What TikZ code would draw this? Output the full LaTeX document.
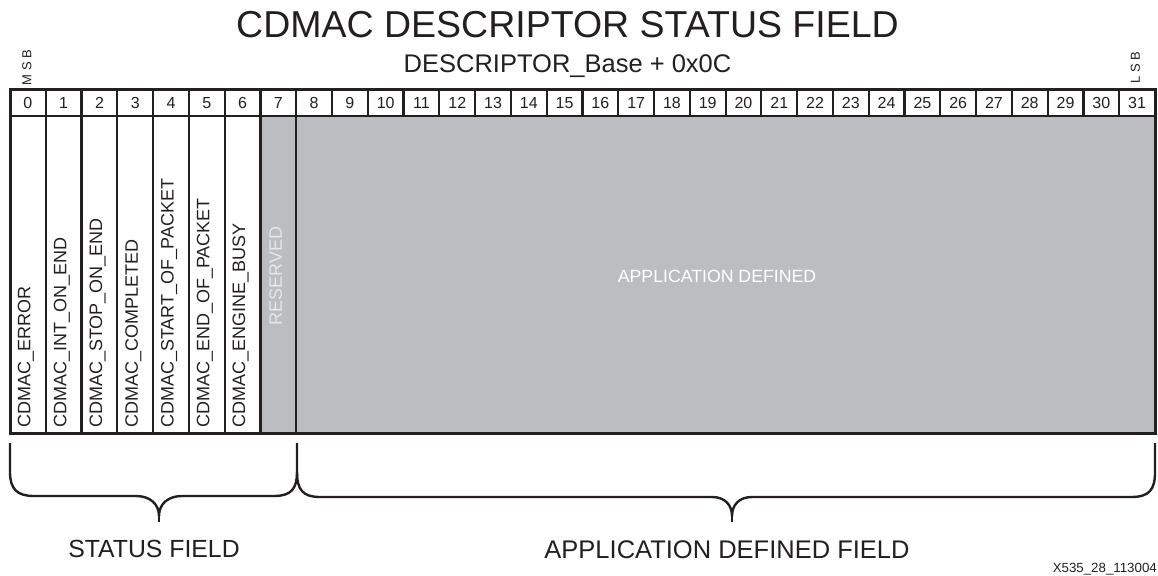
\documentclass[tikz,border=0pt]{standalone}
\usepackage{fontspec}
\setmainfont{Liberation Sans}
\definecolor{ink}{HTML}{231F20}
\definecolor{fillgray}{HTML}{BCBDC0}
\definecolor{lighttext}{HTML}{E6E7E8}
\tikzset{
  bitnum/.style={inner sep=0pt, anchor=base, text=ink, font=\fontsize{16}{16}\selectfont},
  fieldlbl/.style={rotate=90, anchor=base west, inner sep=0pt, text=ink, font=\fontsize{18}{18}\selectfont},
  reslbl/.style={rotate=90, anchor=base, inner sep=0pt, text=lighttext, font=\fontsize{18}{18}\selectfont},
  applbl/.style={inner sep=0pt, anchor=base, text=white, font=\fontsize{17.7}{18}\selectfont},
  sidelbl/.style={rotate=90, inner sep=0pt, text=ink, font=\fontsize{13}{13}\selectfont},
  biglbl/.style={inner sep=0pt, anchor=base, text=ink, font=\fontsize{24.8}{25}\selectfont},
  innerline/.style={draw=ink, line width=2.2pt},
  outerline/.style={draw=ink, line width=3pt},
  bracepath/.style={draw=ink, line width=2.4pt, line join=round}
}
\begin{document}
\begin{tikzpicture}[x=1pt,y=-1pt]
\useasboundingbox (0,0) rectangle (1158,575);
\def\cw{35.78}
% gray fields
\fill[fillgray] ({10+7*\cw},116) rectangle (1155,433);
% bit row separators
\foreach \i in {1,...,31}
  \draw[innerline] ({10+\i*\cw},90) -- ({10+\i*\cw},116);
% field row separators
\foreach \i in {1,...,8}
  \draw[innerline] ({10+\i*\cw},116) -- ({10+\i*\cw},433);
\draw[innerline] (10,116) -- (1155,116);
\draw[outerline] (10,90) rectangle (1155,433);
% bit numbers
\foreach \i in {0,...,31}
  \node[bitnum] (b\i) at ({10+(\i+0.5)*\cw},109) {\i};
% field labels
\foreach \t [count=\i from 0] in {CDMAC\_ERROR,CDMAC\_INT\_ON\_END,CDMAC\_STOP\_ON\_END,CDMAC\_COMPLETED,CDMAC\_START\_OF\_PACKET,CDMAC\_END\_OF\_PACKET,CDMAC\_ENGINE\_BUSY}
  \node[fieldlbl] (f\i) at ({10+(\i+0.5)*\cw+2.6},428) {\t};
\node[reslbl] (res) at ({10+7.5*\cw+3.5},276) {RESERVED};
\node[applbl] (app) at (717,282) {APPLICATION DEFINED};
% titles
\node[inner sep=0pt, anchor=base, text=ink, font=\fontsize{37.5}{38}\selectfont] (title) at (567.5,38) {CDMAC DESCRIPTOR STATUS FIELD};
\node[inner sep=0pt, anchor=base, text=ink, font=\fontsize{25.5}{26}\selectfont] (subtitle) at (567.5,73) {DESCRIPTOR\_Base + 0x0C};
\node[sidelbl] (msb) at (27,67.5) {M S B};
\node[sidelbl] (lsb) at (1135.5,67.5) {L S B};
% braces
\draw[bracepath] (10,443) -- (10,472) .. controls (10,489) and (17,496) .. (34,496) -- (136,496)
  .. controls (150,496) and (159,504) .. (159,516)
  .. controls (159,504) and (168,496) .. (182,496) -- (274,496)
  .. controls (291,496) and (297,489) .. (297,472) -- (297,443);
\draw[bracepath] (159,512) -- (159,522);
\draw[bracepath] (297,472) .. controls (297,490) and (303,497) .. (320,497) -- (712,497)
  .. controls (725,497) and (732,505) .. (732,516)
  .. controls (732,505) and (739,497) .. (752,497) -- (1131,497)
  .. controls (1149,497) and (1155,490) .. (1155,472) -- (1155,443);
\draw[bracepath] (732,512) -- (732,522);
\node[biglbl] (status) at (154,557) {STATUS FIELD};
\node[biglbl, font=\fontsize{25.5}{26}\selectfont] (appfield) at (727,558) {APPLICATION DEFINED FIELD};
\node[inner sep=0pt, anchor=base east, text=ink, font=\fontsize{13.3}{14}\selectfont] (code) at (1157,572) {X535\_28\_113004};
\end{tikzpicture}
\end{document}
